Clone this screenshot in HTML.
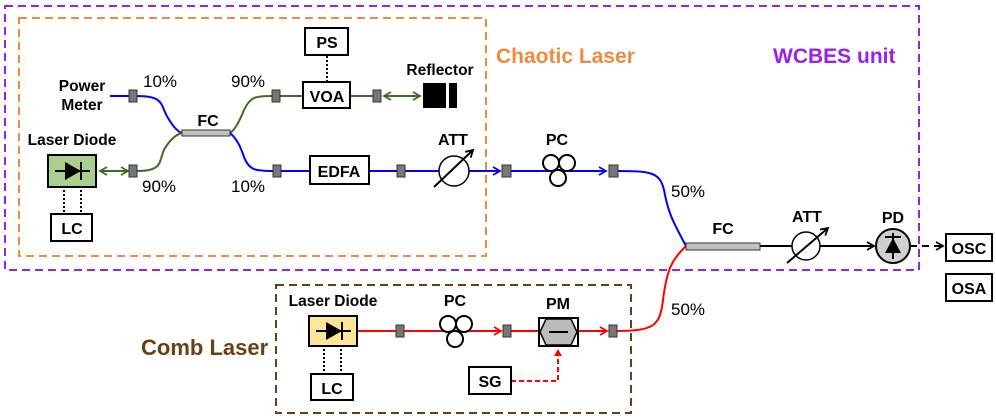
<!DOCTYPE html>
<html><head><meta charset="utf-8"><style>
html,body{margin:0;padding:0;background:#fff;width:996px;height:419px;overflow:hidden}
text{font-family:"Liberation Sans",Arial,sans-serif}
.b{font-weight:bold;font-size:16px}
.p{font-size:17px}
</style></head><body>
<svg width="996" height="419" viewBox="0 0 996 419" xmlns="http://www.w3.org/2000/svg">
<defs>
<marker id="ab" markerWidth="10" markerHeight="10" refX="8" refY="5" orient="auto" markerUnits="userSpaceOnUse"><path d="M1,1 L8,5 L1,9" fill="none" stroke="#0000ff" stroke-width="1.8"/></marker>
<marker id="ar" markerWidth="10" markerHeight="10" refX="8" refY="5" orient="auto" markerUnits="userSpaceOnUse"><path d="M1,1 L8,5 L1,9" fill="none" stroke="#ff0000" stroke-width="1.8"/></marker>
<marker id="ag" markerWidth="10" markerHeight="10" refX="8" refY="5" orient="auto-start-reverse" markerUnits="userSpaceOnUse"><path d="M1,1 L8,5 L1,9" fill="none" stroke="#3f6b25" stroke-width="1.8"/></marker>
<marker id="ak" markerWidth="10" markerHeight="10" refX="8" refY="5" orient="auto" markerUnits="userSpaceOnUse"><path d="M1,1 L8,5 L1,9" fill="none" stroke="#000" stroke-width="1.8"/></marker>
<marker id="arr" markerWidth="8" markerHeight="8" refX="6" refY="4" orient="auto" markerUnits="userSpaceOnUse"><path d="M0,0 L7,4 L0,8z" fill="#ff0000"/></marker>
</defs>
<rect x="5" y="6" width="914" height="264" fill="none" stroke="#9b1fe8" stroke-width="2" stroke-dasharray="8,5"/>
<rect x="19" y="18" width="467" height="238" fill="none" stroke="#f08a3c" stroke-width="2" stroke-dasharray="8,5"/>
<rect x="276" y="285" width="355" height="128" fill="none" stroke="#6b3f12" stroke-width="2" stroke-dasharray="8,5"/>
<text x="496" y="63" font-size="21" font-weight="bold" fill="#f08a3c">Chaotic Laser</text>
<text x="773" y="63" font-size="21" font-weight="bold" fill="#9b1fe8">WCBES unit</text>
<text x="141" y="355" font-size="22" font-weight="bold" fill="#6b3f12">Comb Laser</text>

<path d="M110,96 L130,96" stroke="#0000ff" stroke-width="2" fill="none"/>
<path d="M137,96 C165,96 160,105 168,118 C174,128 178,132 182,133" stroke="#0000ff" stroke-width="2" fill="none"/>
<path d="M137,171 C165,171 158,160 165,148 C172,137 178,134 182,133" stroke="#3f6b25" stroke-width="2" fill="none"/>
<path d="M100,171 L128,171" stroke="#3f6b25" stroke-width="2" fill="none" marker-start="url(#ag)" marker-end="url(#ag)"/>
<path d="M230,133 C235,130 240,120 244,110 C250,97 255,96 272,96" stroke="#3f6b25" stroke-width="2" fill="none"/>
<path d="M280,96 L303,96 M350,96 L373,96" stroke="#3f6b25" stroke-width="2" fill="none"/>
<path d="M384,96 L420,96" stroke="#3f6b25" stroke-width="2" fill="none" marker-start="url(#ag)" marker-end="url(#ag)"/>
<path d="M230,133 C236,138 240,145 244,157 C249,170 255,171 273,171" stroke="#0000ff" stroke-width="2" fill="none"/>
<path d="M281,171 L310,171 M369,171 L397,171 M405,171 L439,171" stroke="#0000ff" stroke-width="2" fill="none"/>
<path d="M469,171 L500,171" stroke="#0000ff" stroke-width="2" fill="none" marker-end="url(#ab)"/>
<path d="M511,171 L606,171" stroke="#0000ff" stroke-width="2" fill="none" marker-end="url(#ab)"/>
<path d="M618,171 C650,171 660,172 664,190 C668,212 672,220 686,246" stroke="#0000ff" stroke-width="2" fill="none"/>
<path d="M357,331 L396,331 M404,331 L500,331" stroke="#ff0000" stroke-width="2" fill="none"/>
<path d="M440,331 L501,331" stroke="#ff0000" stroke-width="2" fill="none" marker-end="url(#ar)"/>
<path d="M511,331 L539,331" stroke="#ff0000" stroke-width="2" fill="none"/>
<path d="M578,331 L607,331" stroke="#ff0000" stroke-width="2" fill="none" marker-end="url(#ar)"/>
<path d="M617,331 C655,331 660,325 663,300 C667,268 672,260 686,246" stroke="#ff0000" stroke-width="2" fill="none"/>
<path d="M511,381 L558,381 L558,350" stroke="#ff0000" stroke-width="2" fill="none" stroke-dasharray="5,3" marker-end="url(#arr)"/>
<path d="M760,246 L792,246 M820,246 L874,246" stroke="#000" stroke-width="2" fill="none" marker-end="url(#ak)"/>
<path d="M910,246 L943,246" stroke="#000" stroke-width="2" fill="none" stroke-dasharray="7,5" marker-end="url(#ak)"/>

<g fill="#777" stroke="#333" stroke-width="1">
<rect x="129" y="90" width="8" height="12"/><rect x="129" y="165" width="8" height="12"/>
<rect x="272" y="90" width="8" height="12"/><rect x="373" y="90" width="8" height="12"/>
<rect x="273" y="165" width="8" height="12"/><rect x="397" y="165" width="8" height="12"/>
<rect x="502" y="165" width="9" height="12"/><rect x="609" y="165" width="9" height="12"/>
<rect x="396" y="325" width="8" height="12"/><rect x="503" y="325" width="8" height="12"/><rect x="609" y="325" width="8" height="12"/>
</g>
<rect x="182" y="130" width="48" height="6" fill="#c0c0c0" stroke="#333" stroke-width="1"/>
<rect x="686" y="243" width="74" height="7" fill="#c0c0c0" stroke="#333" stroke-width="1"/>
<g fill="#fff" stroke="#000" stroke-width="2">
<rect x="51" y="214" width="41" height="27"/>
<rect x="305" y="28" width="43" height="27"/>
<rect x="303" y="82" width="47" height="26"/>
<rect x="310" y="156" width="59" height="28"/>
<rect x="311" y="374" width="42" height="26"/>
<rect x="469" y="367" width="42" height="27"/>
<rect x="946" y="234" width="46" height="27"/>
<rect x="946" y="274" width="46" height="27"/>
</g>
<rect x="423" y="83" width="23" height="25" fill="#000"/><rect x="449" y="83" width="8" height="25" fill="#000"/>
<rect x="48" y="155" width="48" height="32" fill="#a9d08e" stroke="#000" stroke-width="2"/>
<rect x="309" y="316" width="48" height="30" fill="#ffe699" stroke="#000" stroke-width="2"/>
<g stroke="#000" stroke-width="2"><path d="M55,171 H90 M81,162 V180"/><path d="M316,331 H351 M342,322 V340"/></g>
<path d="M65,162 L81,171 L65,180z" fill="#000"/><path d="M326,322 L342,331 L326,340z" fill="#000"/>
<g stroke="#000" stroke-width="2" stroke-dasharray="2,2">
<path d="M64,190 V213 M81,190 V213"/><path d="M324,349 V373 M341,349 V373"/><path d="M327,56 V81"/>
</g>
<circle cx="454" cy="171" r="15" fill="#fff" stroke="#000" stroke-width="1.5"/>
<path d="M434,187 L473,150" stroke="#000" stroke-width="2" marker-end="url(#ak)"/>
<circle cx="806" cy="246" r="14" fill="#fff" stroke="#000" stroke-width="1.5"/>
<path d="M787,263 L828,228" stroke="#000" stroke-width="2" marker-end="url(#ak)"/>
<g fill="#fff" stroke="#000" stroke-width="2">
<circle cx="551" cy="163" r="8"/><circle cx="567" cy="163" r="8"/><circle cx="558" cy="178" r="8"/>
<circle cx="448" cy="324" r="8"/><circle cx="464" cy="324" r="8"/><circle cx="455" cy="339" r="8"/>
</g>
<rect x="539" y="318" width="39" height="28" fill="#fff" stroke="#000" stroke-width="2"/>
<path d="M546,319 L571,319 L577,332 L571,345 L546,345 L540,332z" fill="#bbb" stroke="#000" stroke-width="1.5"/>
<path d="M549,332 H568" stroke="#000" stroke-width="2"/>
<circle cx="893" cy="246" r="17" fill="#d0d0d0" stroke="#000" stroke-width="2"/>
<path d="M893,233 V259 M885,237 H901" stroke="#000" stroke-width="2"/>
<path d="M885,253 L901,253 L893,238z" fill="#000"/>

<g text-anchor="middle">
<text x="82" y="91" class="b" style="font-size:15.5px">Power</text><text x="82" y="110" class="b" style="font-size:15.5px">Meter</text>
<text x="72" y="145" class="b" style="font-size:15.5px">Laser Diode</text>
<text x="72" y="234" class="b">LC</text>
<text x="208" y="126" class="b">FC</text>
<text x="327" y="48" class="b">PS</text>
<text x="327" y="102" class="b">VOA</text>
<text x="440" y="75" class="b" style="font-size:15.5px">Reflector</text>
<text x="339" y="177" class="b">EDFA</text>
<text x="453" y="145" class="b">ATT</text>
<text x="557" y="145" class="b">PC</text>
<text x="723" y="234" class="b">FC</text>
<text x="807" y="222" class="b">ATT</text>
<text x="893" y="223" class="b">PD</text>
<text x="969" y="254" class="b">OSC</text>
<text x="969" y="294" class="b">OSA</text>
<text x="333" y="306" class="b" style="font-size:15.5px">Laser Diode</text>
<text x="332" y="394" class="b">LC</text>
<text x="455" y="306" class="b">PC</text>
<text x="558" y="309" class="b">PM</text>
<text x="490" y="387" class="b">SG</text>
</g>
<text x="143" y="87" class="p">10%</text><text x="142" y="192" class="p">90%</text>
<text x="231" y="87" class="p">90%</text><text x="231" y="192" class="p">10%</text>
<text x="671" y="197" class="p">50%</text><text x="671" y="315" class="p">50%</text>
</svg>
</body></html>
